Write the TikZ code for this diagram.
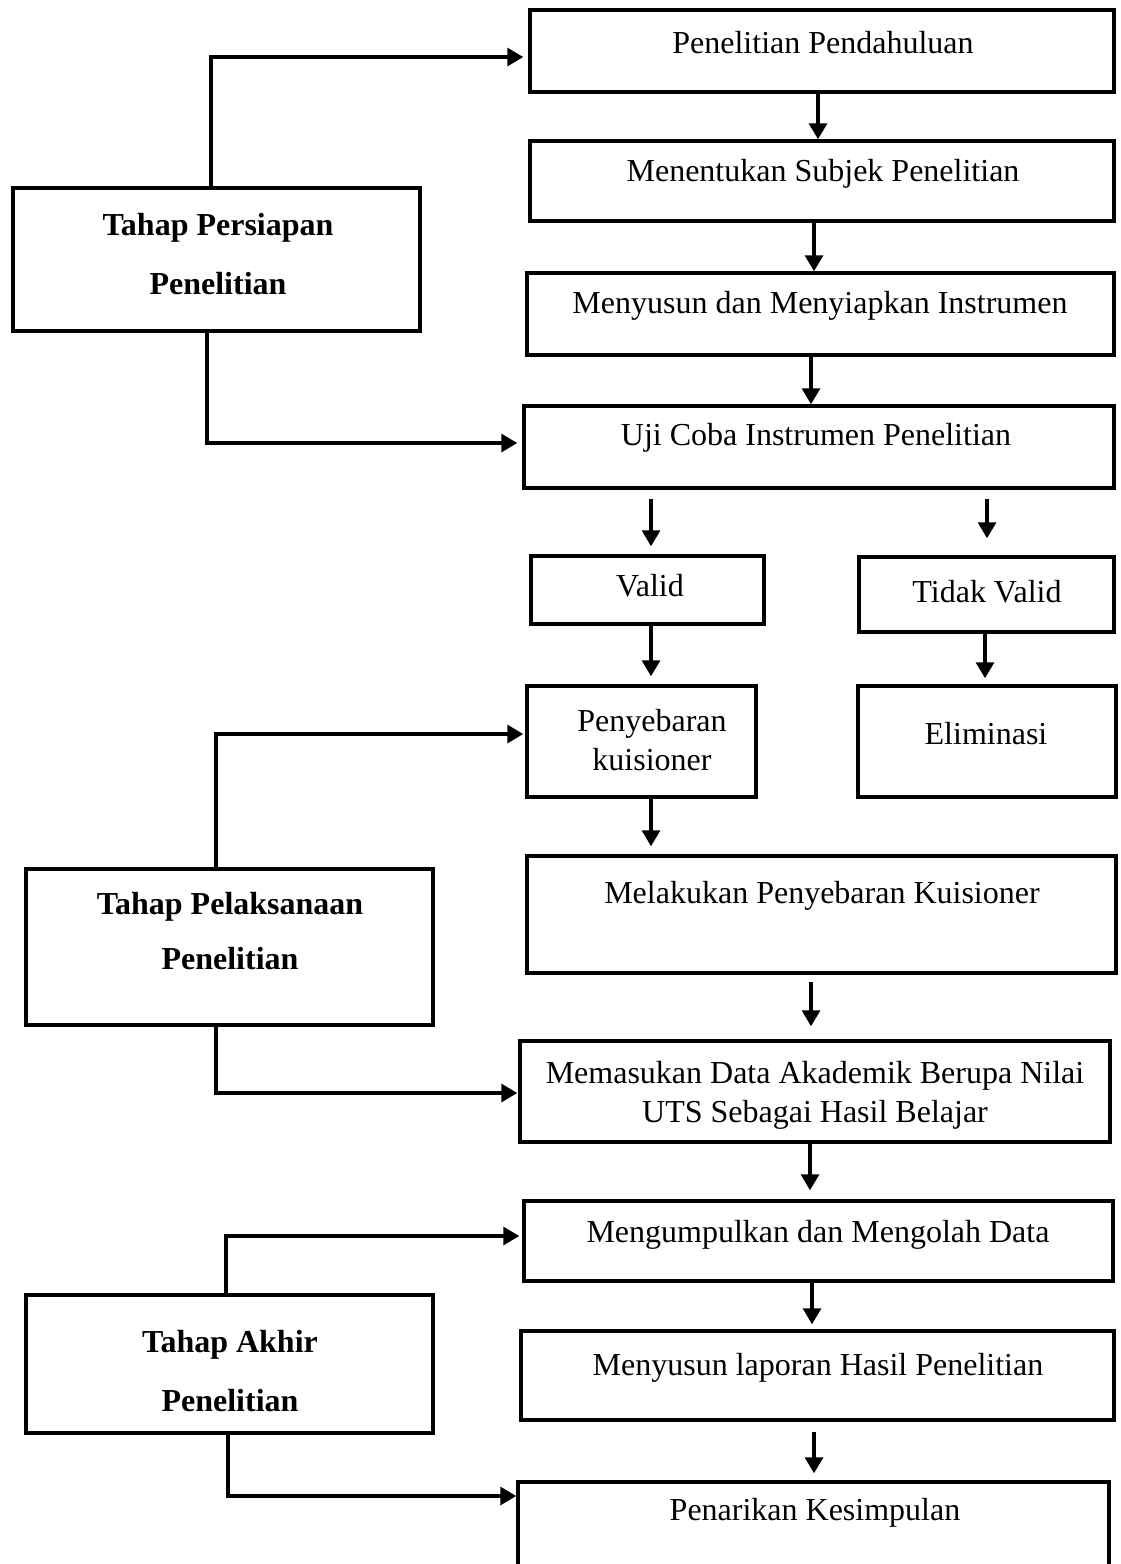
\documentclass[tikz,border=0pt]{standalone}
\usepackage{fontspec}
\setmainfont{Liberation Serif}
\usetikzlibrary{arrows.meta}
\begin{document}
\begin{tikzpicture}[x=1pt,y=-1pt,
  box/.style={draw, line width=3.5pt, inner sep=0pt},
  conn/.style={line width=3.4pt, -{Triangle[length=16pt,width=18pt]}},
  txt/.style={font=\fontsize{32}{39}\selectfont, align=center, inner sep=0pt},
  btxt/.style={font=\fontsize{32}{59}\selectfont\bfseries, align=center, inner sep=0pt}]
\useasboundingbox (0,0) rectangle (1121,1564);
\clip (0,0) rectangle (1121,1564);
% right column boxes
\node[box, minimum width=584pt, minimum height=82pt] (b1) at (822,51) {};
\node[box, minimum width=584pt, minimum height=80pt] (b2) at (822,181) {};
\node[box, minimum width=587pt, minimum height=82pt] (b3) at (820.5,314) {};
\node[box, minimum width=590pt, minimum height=82pt] (b4) at (819,447) {};
\node[box, minimum width=233pt, minimum height=68pt] (valid) at (647.5,590) {};
\node[box, minimum width=255pt, minimum height=75pt] (tidak) at (986.5,594.5) {};
\node[box, minimum width=229pt, minimum height=111pt] (peny) at (641.5,741.5) {};
\node[box, minimum width=258pt, minimum height=111pt] (elim) at (987,741.5) {};
\node[box, minimum width=589pt, minimum height=117pt] (melak) at (821.5,914.5) {};
\node[box, minimum width=590pt, minimum height=101pt] (memas) at (815,1091.5) {};
\node[box, minimum width=589pt, minimum height=80pt] (mengum) at (818.5,1241) {};
\node[box, minimum width=593pt, minimum height=89pt] (menyus) at (817.5,1375.5) {};
\node[box, minimum width=591pt, minimum height=118pt] (penar) at (813.5,1541) {};
% left boxes
\node[box, minimum width=407pt, minimum height=143pt] (tA) at (216.5,259.5) {};
\node[box, minimum width=407pt, minimum height=156pt] (tB) at (229.5,947) {};
\node[box, minimum width=407pt, minimum height=138pt] (tC) at (229.5,1364) {};
% texts
\node[txt] (t1) at (823,43) {Penelitian Pendahuluan};
\node[txt] (t2) at (823,174) {Menentukan Subjek Penelitian};
\node[txt] (t3) at (820,306) {Menyusun dan Menyiapkan Instrumen};
\node[txt] (t4) at (816,438) {Uji Coba Instrumen Penelitian};
\node[txt] (t5) at (650,586) {Valid};
\node[txt] (t6) at (987,592) {Tidak Valid};
\node[txt] (t7) at (652,740) {Penyebaran\\kuisioner};
\node[txt] (t8) at (986,734) {Eliminasi};
\node[txt] (t9) at (822,896) {Melakukan Penyebaran Kuisioner};
\node[txt] (t10) at (815,1095) {Memasukan Data Akademik Berupa Nilai\\UTS Sebagai Hasil Belajar};
\node[txt] (t11) at (818,1235) {Mengumpulkan dan Mengolah Data};
\node[txt] (t12) at (818,1368) {Menyusun laporan Hasil Penelitian};
\node[txt] (t13) at (815,1513) {Penarikan Kesimpulan};
\node[btxt] (tA1) at (218,254) {Tahap Persiapan\\Penelitian};
\node[btxt] (tB1) at (230,931) {Tahap Pelaksanaan\\[-4pt]Penelitian};
\node[btxt] (tC1) at (230,1371) {Tahap Akhir\\Penelitian};
% left connectors
\draw[conn, shorten >=5pt] ([xshift=-5.5pt]tA.north) |- ([yshift=-6pt]b1.west);
\draw[conn, shorten >=5pt] ([xshift=-9.5pt]tA.south) |- ([yshift=4pt]b4.west);
\draw[conn, shorten >=2pt] ([xshift=-13.5pt]tB.north) |- ([yshift=7.5pt]peny.west);
\draw[conn, shorten >=1pt] ([xshift=-13.5pt]tB.south) |- ([yshift=-1.5pt]memas.west);
\draw[conn, shorten >=3pt] ([xshift=-3.5pt]tC.north) |- ([yshift=5pt]mengum.west);
\draw[conn, shorten >=0pt] ([xshift=-1.5pt]tC.south) |- ([yshift=45pt]penar.west);
% vertical connectors
\draw[conn] ([xshift=-4pt]b1.south) -- ([xshift=-4pt]b1.south |- b2.north);
\draw[conn] ([xshift=-8pt]b2.south) -- ([xshift=-8pt]b2.south |- b3.north);
\draw[conn] ([xshift=-9.5pt]b3.south) -- ([xshift=-9.5pt]b3.south |- b4.north);
\draw[conn, shorten <=9pt, shorten >=8pt] ([xshift=3.5pt]valid.north |- b4.south) -- ([xshift=3.5pt]valid.north);
\draw[conn, shorten <=9pt, shorten >=17pt] ([xshift=0.5pt]tidak.north |- b4.south) -- ([xshift=0.5pt]tidak.north);
\draw[conn, shorten >=8pt] ([xshift=3.5pt]valid.south) -- ([xshift=3.5pt]valid.south |- peny.north);
\draw[conn, shorten >=6pt] ([xshift=-1.5pt]tidak.south) -- ([xshift=-1.5pt]tidak.south |- elim.north);
\draw[conn, shorten >=8pt] ([xshift=9.5pt]peny.south) -- ([xshift=9.5pt]peny.south |- melak.north);
\draw[conn, shorten <=7pt, shorten >=13pt] ([xshift=-10.5pt]melak.south) -- ([xshift=-10.5pt]melak.south |- memas.north);
\draw[conn, shorten >=9pt] ([xshift=-5pt]memas.south) -- ([xshift=-5pt]memas.south |- mengum.north);
\draw[conn, shorten >=5pt] ([xshift=-6.5pt]mengum.south) -- ([xshift=-6.5pt]mengum.south |- menyus.north);
\draw[conn, shorten <=10pt, shorten >=7pt] ([xshift=-3.5pt]menyus.south) -- ([xshift=-3.5pt]menyus.south |- penar.north);
\end{tikzpicture}
\end{document}
